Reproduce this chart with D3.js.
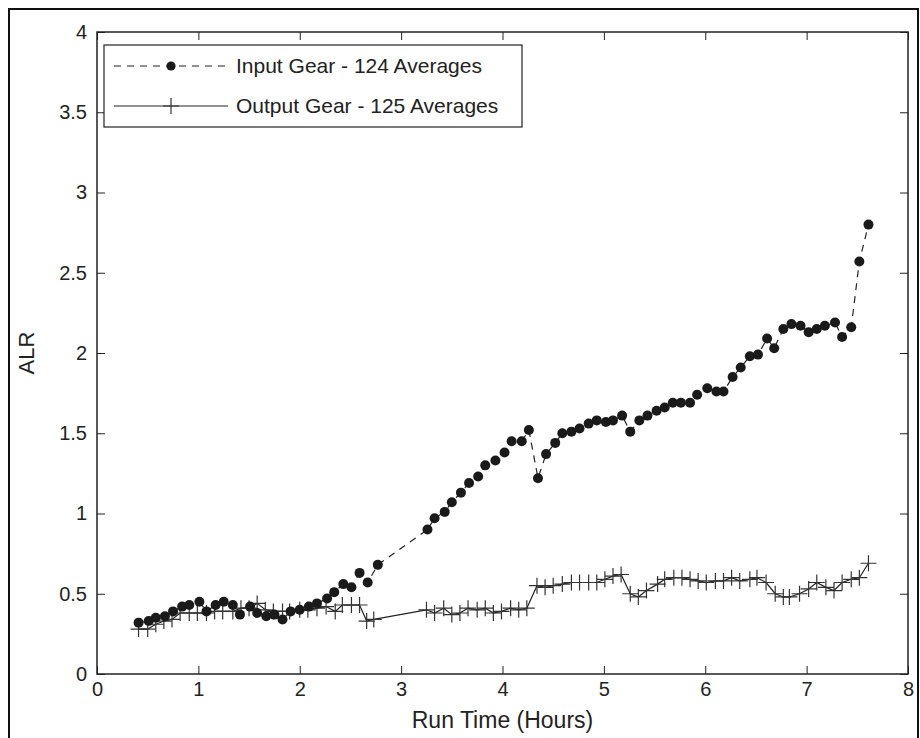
<!DOCTYPE html>
<html lang="en">
<head>
<meta charset="utf-8">
<title>ALR vs Run Time</title>
<script src="https://d3js.org/d3.v7.min.js"></script>
<style>
  body { margin: 0; background: #fff; }
  svg { font-family: "Liberation Sans", Arial, sans-serif; }
  .axis path, .axis line { stroke: #222; }
  .axis text { fill: #222; font-size: 20px; }
</style>
</head>
<body>
<script>
// x tick values and labels
var xTicks = [0, 1, 2, 3, 4, 5, 6, 7, 8];
var yTicks = [0, 0.5, 1, 1.5, 2, 2.5, 3, 3.5, 4];
var yTickLabels = ["0", "0.5", "1", "1.5", "2", "2.5", "3", "3.5", "4"];

// Input gear - run time (hours) and ALR
var inputHours = [0.41, 0.51, 0.58, 0.67, 0.75, 0.84, 0.91, 1.01, 1.08, 1.17, 1.25, 1.34, 1.41, 1.51, 1.58,
  1.67, 1.75, 1.83, 1.91, 2.00, 2.09, 2.17, 2.27, 2.34, 2.43, 2.51, 2.59, 2.67, 2.77,
  3.26, 3.33, 3.43, 3.50, 3.59, 3.67, 3.76, 3.83, 3.93, 4.02, 4.09, 4.19, 4.26, 4.35, 4.43, 4.52,
  4.59, 4.68, 4.76, 4.85, 4.93, 5.02, 5.09, 5.18, 5.26, 5.35, 5.43, 5.52, 5.60, 5.68, 5.76, 5.85,
  5.92, 6.02, 6.11, 6.18, 6.27, 6.35, 6.44, 6.52, 6.61, 6.68, 6.77, 6.85, 6.94, 7.02, 7.10, 7.18,
  7.28, 7.35, 7.44, 7.52, 7.61];
var inputALR = [0.32, 0.33, 0.35, 0.36, 0.39, 0.42, 0.43, 0.45, 0.39, 0.43, 0.45, 0.43, 0.37, 0.42, 0.38,
  0.36, 0.37, 0.34, 0.39, 0.40, 0.42, 0.44, 0.47, 0.51, 0.56, 0.54, 0.63, 0.57, 0.68,
  0.90, 0.97, 1.01, 1.07, 1.13, 1.19, 1.23, 1.30, 1.33, 1.38, 1.45, 1.45, 1.52, 1.22, 1.37, 1.44,
  1.50, 1.51, 1.53, 1.56, 1.58, 1.57, 1.58, 1.61, 1.51, 1.58, 1.61, 1.64, 1.66, 1.69, 1.69, 1.69,
  1.74, 1.78, 1.76, 1.76, 1.85, 1.91, 1.98, 1.99, 2.09, 2.03, 2.15, 2.18, 2.17, 2.13, 2.15, 2.17,
  2.19, 2.10, 2.16, 2.57, 2.80];

// Output gear - run time (hours) and ALR
var outputHours = [0.41, 0.50, 0.58, 0.66, 0.74, 0.82, 0.91, 0.99, 1.08, 1.16, 1.24, 1.34, 1.42, 1.50, 1.58,
  1.66, 1.74, 1.83, 1.90, 2.00, 2.08, 2.17, 2.26, 2.35, 2.42, 2.51, 2.59, 2.66, 2.73,
  3.25, 3.33, 3.42, 3.50, 3.58, 3.66, 3.75, 3.83, 3.91, 3.99, 4.08, 4.16, 4.24,
  4.34, 4.42, 4.50, 4.59, 4.68, 4.76, 4.85, 4.93, 5.01, 5.09, 5.17, 5.26, 5.34, 5.42, 5.53, 5.60,
  5.69, 5.77, 5.85, 5.93, 6.01, 6.10, 6.18, 6.26, 6.34, 6.44, 6.51, 6.60, 6.69, 6.77, 6.83, 6.93,
  7.02, 7.10, 7.19, 7.27, 7.35, 7.44, 7.52, 7.61];
var outputALR = [0.28, 0.28, 0.31, 0.33, 0.34, 0.38, 0.38, 0.38, 0.38, 0.39, 0.39, 0.39, 0.41, 0.41, 0.44,
  0.40, 0.39, 0.39, 0.39, 0.40, 0.40, 0.41, 0.42, 0.39, 0.43, 0.43, 0.43, 0.33, 0.34,
  0.40, 0.38, 0.41, 0.37, 0.38, 0.41, 0.40, 0.41, 0.38, 0.39, 0.41, 0.40, 0.41,
  0.55, 0.54, 0.55, 0.56, 0.57, 0.57, 0.57, 0.57, 0.59, 0.61, 0.62, 0.50, 0.48, 0.52, 0.56, 0.59,
  0.60, 0.60, 0.59, 0.58, 0.57, 0.58, 0.58, 0.60, 0.58, 0.59, 0.60, 0.57, 0.50, 0.48, 0.48, 0.50,
  0.53, 0.57, 0.54, 0.52, 0.57, 0.59, 0.60, 0.69];

var seriesNames = ["Input Gear - 124 Averages", "Output Gear - 125 Averages"];

var w = 920, h = 738;
var margin = {top: 32, right: 12, bottom: 64, left: 97};
var iw = 908 - margin.left, ih = 674 - margin.top;

var svg = d3.select("body").append("svg")
  .attr("width", w)
  .attr("height", h);

// outer frame
svg.append("rect")
  .attr("x", 9).attr("y", 9)
  .attr("width", 909).attr("height", 760)
  .attr("fill", "none")
  .attr("stroke", "#111")
  .attr("stroke-width", 2);

var g = svg.append("g")
  .attr("transform", "translate(" + margin.left + "," + margin.top + ")");

var x = d3.scaleLinear().domain([0, 8]).range([0, iw]);
var y = d3.scaleLinear().domain([0, 4]).range([ih, 0]);

// axes with inward ticks on all four sides
g.append("g").attr("class", "axis")
  .attr("transform", "translate(0," + ih + ")")
  .call(d3.axisBottom(x).tickValues(xTicks).tickSizeInner(-8).tickSizeOuter(0).tickPadding(8).tickFormat(d3.format("d")));
g.append("g").attr("class", "axis")
  .call(d3.axisTop(x).tickValues(xTicks).tickSizeInner(-8).tickSizeOuter(0).tickFormat(""));
g.append("g").attr("class", "axis")
  .call(d3.axisLeft(y).tickValues(yTicks).tickSizeInner(-8).tickSizeOuter(0).tickPadding(10)
    .tickFormat(function(d, i) { return yTickLabels[i]; }));
g.append("g").attr("class", "axis")
  .attr("transform", "translate(" + iw + ",0)")
  .call(d3.axisRight(y).tickValues(yTicks).tickSizeInner(-8).tickSizeOuter(0).tickFormat(""));

g.selectAll(".axis .domain").remove();
g.append("rect")
  .attr("width", iw).attr("height", ih)
  .attr("fill", "none")
  .attr("stroke", "#222")
  .attr("stroke-width", 1.5);

// axis titles
svg.append("text")
  .attr("x", margin.left + iw / 2)
  .attr("y", 728)
  .attr("text-anchor", "middle")
  .attr("font-size", 23)
  .attr("fill", "#222")
  .text("Run Time (Hours)");

svg.append("text")
  .attr("transform", "translate(34," + (margin.top + ih / 2) + ")rotate(-90)")
  .attr("text-anchor", "middle")
  .attr("font-size", 22)
  .attr("fill", "#222")
  .text("ALR");

var inputData = inputHours.map(function(d, i) { return [d, inputALR[i]]; });
var outputData = outputHours.map(function(d, i) { return [d, outputALR[i]]; });

var line = d3.line()
  .x(function(d) { return x(d[0]); })
  .y(function(d) { return y(d[1]); });

var plus = "M-8,0H8M0,-8V8";

// output gear: solid line with plus markers
g.append("path")
  .datum(outputData)
  .attr("d", line)
  .attr("fill", "none")
  .attr("stroke", "#222")
  .attr("stroke-width", 1.2);

g.selectAll(".plus")
  .data(outputData)
  .enter().append("path")
  .attr("class", "plus")
  .attr("transform", function(d) { return "translate(" + x(d[0]) + "," + y(d[1]) + ")"; })
  .attr("d", plus)
  .attr("stroke", "#333")
  .attr("stroke-width", 1.2);

// input gear: dashed line with filled dots
g.append("path")
  .datum(inputData)
  .attr("d", line)
  .attr("fill", "none")
  .attr("stroke", "#222")
  .attr("stroke-width", 1.2)
  .attr("stroke-dasharray", "7,6");

g.selectAll(".dot")
  .data(inputData)
  .enter().append("circle")
  .attr("class", "dot")
  .attr("cx", function(d) { return x(d[0]); })
  .attr("cy", function(d) { return y(d[1]); })
  .attr("r", 5)
  .attr("fill", "#1a1a1a");

// legend
var legend = svg.append("g").attr("transform", "translate(104,45)");
legend.append("rect")
  .attr("width", 418).attr("height", 82)
  .attr("fill", "#fff")
  .attr("stroke", "#222")
  .attr("stroke-width", 1.2);

var rows = legend.selectAll(".row")
  .data(seriesNames)
  .enter().append("g")
  .attr("transform", function(d, i) { return "translate(0," + (21 + i * 40) + ")"; });

rows.append("line")
  .attr("x1", 10).attr("x2", 124)
  .attr("stroke", "#222")
  .attr("stroke-width", 1.2)
  .attr("stroke-dasharray", function(d, i) { return i === 0 ? "7,6" : null; });

rows.filter(function(d, i) { return i === 0; })
  .append("circle").attr("cx", 67).attr("r", 4.6).attr("fill", "#1a1a1a");
rows.filter(function(d, i) { return i === 1; })
  .append("path").attr("d", plus).attr("transform", "translate(67,0)")
  .attr("stroke", "#333").attr("stroke-width", 1.2);

rows.append("text")
  .attr("x", 132)
  .attr("dy", "0.35em")
  .attr("font-size", 21)
  .attr("fill", "#222")
  .text(function(d) { return d; });
</script>
</body>
</html>
